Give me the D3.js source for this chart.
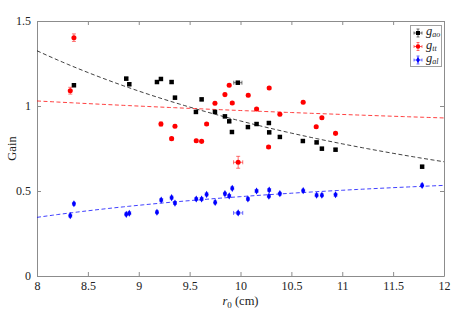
<!DOCTYPE html>
<html>
<head>
<meta charset="utf-8">
<script src="https://cdn.jsdelivr.net/npm/d3@7"></script>
<style>
  body { margin: 0; background: #fff; }
</style>
</head>
<body>
<div id="container"></div>
<script>
// g_ao (black squares)
var aoX = [8.363, 8.877, 8.907, 9.179, 9.218, 9.323, 9.356, 9.562, 9.618, 9.749, 9.847, 9.889,
           9.916, 9.974, 10.073, 10.158, 10.279, 10.282, 10.387, 10.613, 10.748, 10.800, 10.934, 11.785];
var aoY = [1.122, 1.161, 1.128, 1.141, 1.159, 1.141, 1.049, 0.965, 1.039, 0.965, 0.939, 0.910,
           0.847, 1.137, 0.876, 0.894, 0.900, 0.845, 0.818, 0.794, 0.786, 0.749, 0.743, 0.643];
var aoXErr = [0, 0, 0, 0, 0, 0, 0, 0, 0, 0, 0, 0, 0, 0.04, 0, 0, 0, 0, 0, 0, 0, 0, 0, 0];

// g_tt (red circles)
var ttX = [8.327, 8.363, 9.218, 9.323, 9.356, 9.565, 9.618, 9.667, 9.749, 9.847, 9.889, 9.919,
           9.977, 10.076, 10.158, 10.276, 10.282, 10.387, 10.616, 10.744, 10.800, 10.934];
var ttY = [1.090, 1.402, 0.894, 0.808, 0.881, 0.796, 0.792, 0.894, 1.016, 1.067, 1.122, 1.018,
           0.669, 1.063, 0.982, 0.759, 1.106, 0.951, 1.022, 0.878, 0.931, 0.839];
var ttYErr = [0.02, 0.022, 0.012, 0.008, 0.008, 0.008, 0.008, 0.008, 0.008, 0.008, 0.008, 0.008,
              0.035, 0.008, 0.008, 0.008, 0.008, 0.008, 0.008, 0.008, 0.008, 0.008];
var ttXErr = [0, 0, 0.01, 0, 0, 0, 0, 0, 0, 0, 0, 0, 0.045, 0, 0, 0, 0, 0, 0, 0, 0, 0];

// g_al (blue diamonds)
var alX = [8.327, 8.363, 8.877, 8.907, 9.179, 9.221, 9.323, 9.356, 9.565, 9.618, 9.667, 9.751, 9.847,
           9.889, 9.919, 9.977, 10.073, 10.158, 10.279, 10.282, 10.387, 10.616, 10.748, 10.800, 10.934, 11.785];
var alY = [0.355, 0.425, 0.363, 0.369, 0.375, 0.447, 0.461, 0.429, 0.453, 0.453, 0.480, 0.433, 0.484,
           0.471, 0.516, 0.371, 0.453, 0.500, 0.469, 0.506, 0.484, 0.502, 0.475, 0.475, 0.478, 0.533];
var alXErr = [0, 0, 0, 0, 0, 0, 0, 0, 0, 0, 0, 0, 0, 0, 0, 0.045, 0, 0, 0, 0, 0, 0, 0, 0, 0, 0];

// fitted curves y = a + b * x^p   (ao, tt, al)
var fitA = [0, 0, 0.6834];
var fitB = [43.05, 1.739, -21.66];
var fitP = [-1.674, -0.252, -2];

var xTicks = [8, 8.5, 9, 9.5, 10, 10.5, 11, 11.5, 12];
var xTickLabels = ["8", "8.5", "9", "9.5", "10", "10.5", "11", "11.5", "12"];
var yTicks = [0, 0.5, 1, 1.5];
var yTickLabels = ["0", "0.5", "1", "1.5"];

var W = 463, H = 309;
var margin = {top: 21, right: 19, bottom: 33, left: 37};
var serif = "'Liberation Serif', 'DejaVu Serif', serif";

var svg = d3.select("#container").append("svg")
    .attr("width", W)
    .attr("height", H)
    .attr("font-family", serif);

var x = d3.scaleLinear().domain([8, 12]).range([margin.left, W - margin.right]);
var y = d3.scaleLinear().domain([0, 1.5]).range([H - margin.bottom, margin.top]);

var axisColor = "#8c8c8c";

// axes (ticks inward, full box)
function styleAxis(g) {
    g.attr("font-family", serif);
    g.selectAll(".domain").attr("stroke", axisColor);
    g.selectAll(".tick line").attr("stroke", axisColor);
    g.selectAll(".tick text").attr("font-size", 12).attr("fill", "#222");
}

svg.append("g")
    .attr("transform", "translate(0," + y(0) + ")")
    .call(d3.axisBottom(x).tickValues(xTicks).tickSizeInner(-4).tickSizeOuter(0).tickPadding(5)
        .tickFormat(function(d, i) { return xTickLabels[i]; }))
    .call(styleAxis);

svg.append("g")
    .attr("transform", "translate(0," + y(1.5) + ")")
    .call(d3.axisTop(x).tickValues(xTicks).tickSizeInner(-4).tickSizeOuter(0).tickFormat(""))
    .call(styleAxis);

svg.append("g")
    .attr("transform", "translate(" + x(8) + ",0)")
    .call(d3.axisLeft(y).tickValues(yTicks).tickSizeInner(-4).tickSizeOuter(0).tickPadding(6)
        .tickFormat(function(d, i) { return yTickLabels[i]; }))
    .call(styleAxis);

svg.append("g")
    .attr("transform", "translate(" + x(12) + ",0)")
    .call(d3.axisRight(y).tickValues(yTicks).tickSizeInner(-4).tickSizeOuter(0).tickFormat(""))
    .call(styleAxis);

// axis labels
svg.append("text")
    .attr("x", (x(8) + x(12)) / 2)
    .attr("y", 305)
    .attr("text-anchor", "middle")
    .attr("font-size", 12.5)
    .attr("fill", "#222")
    .call(function(t) {
        t.append("tspan").attr("font-style", "italic").text("r");
        t.append("tspan").attr("dy", 2.5).attr("font-size", 9).text("0");
        t.append("tspan").attr("dy", -2.5).text(" (cm)");
    });

svg.append("text")
    .attr("transform", "translate(16," + ((y(0) + y(1.5)) / 2) + ") rotate(-90)")
    .attr("text-anchor", "middle")
    .attr("font-size", 12.5)
    .attr("fill", "#222")
    .text("Gain");

// fit lines
var fitColors = ["#000000", "#ff0000", "#0000ff"];
var line = d3.line().x(function(d) { return x(d[0]); }).y(function(d) { return y(d[1]); });
fitA.forEach(function(a, k) {
    var pts = d3.range(8, 12.001, 0.05).map(function(v) {
        return [v, a + fitB[k] * Math.pow(v, fitP[k])];
    });
    svg.append("path")
        .attr("d", line(pts))
        .attr("fill", "none")
        .attr("stroke", fitColors[k])
        .attr("stroke-opacity", 0.75)
        .attr("stroke-width", 1)
        .attr("stroke-dasharray", "4,2.5");
});

// error bars + markers
function drawSeries(xs, ys, yErr, xErr, color, symbol, size) {
    var g = svg.append("g");
    xs.forEach(function(xv, i) {
        var ye = yErr ? yErr[i] : 0.008;
        var xe = xErr ? xErr[i] : 0;
        var eb = g.append("g").attr("stroke", color).attr("stroke-opacity", 0.55).attr("stroke-width", 1);
        eb.append("line").attr("x1", x(xv)).attr("x2", x(xv)).attr("y1", y(ys[i] - ye)).attr("y2", y(ys[i] + ye));
        eb.append("line").attr("x1", x(xv) - 2).attr("x2", x(xv) + 2).attr("y1", y(ys[i] - ye)).attr("y2", y(ys[i] - ye));
        eb.append("line").attr("x1", x(xv) - 2).attr("x2", x(xv) + 2).attr("y1", y(ys[i] + ye)).attr("y2", y(ys[i] + ye));
        if (xe > 0) {
            eb.append("line").attr("x1", x(xv - xe)).attr("x2", x(xv + xe)).attr("y1", y(ys[i])).attr("y2", y(ys[i]));
            eb.append("line").attr("x1", x(xv - xe)).attr("x2", x(xv - xe)).attr("y1", y(ys[i]) - 2).attr("y2", y(ys[i]) + 2);
            eb.append("line").attr("x1", x(xv + xe)).attr("x2", x(xv + xe)).attr("y1", y(ys[i]) - 2).attr("y2", y(ys[i]) + 2);
        }
    });
    g.selectAll("path.mark")
        .data(xs)
        .enter().append("path")
        .attr("class", "mark")
        .attr("transform", function(d, i) { return "translate(" + x(d) + "," + y(ys[i]) + ")"; })
        .attr("d", d3.symbol().type(symbol).size(size))
        .attr("fill", color);
}

drawSeries(aoX, aoY, null, aoXErr, "#000000", d3.symbolSquare, 20);
drawSeries(ttX, ttY, ttYErr, ttXErr, "#ff0000", d3.symbolCircle, 20);
drawSeries(alX, alY, null, alXErr, "#0000ff", d3.symbolDiamond, 15);

// legend
var legend = svg.append("g");
legend.append("rect")
    .attr("x", 410.5).attr("y", 25.5)
    .attr("width", 31).attr("height", 41)
    .attr("fill", "#fff")
    .attr("stroke", "#a0a0a0");

var legNames = [["g", "ao"], ["g", "tt"], ["g", "al"]];
var legSymbols = [d3.symbolSquare, d3.symbolCircle, d3.symbolDiamond];
var legSizes = [20, 20, 15];
legNames.forEach(function(n, k) {
    var cy = 33 + k * 13.5, cx = 418;
    var eb = legend.append("g").attr("stroke", fitColors[k]).attr("stroke-opacity", 0.55);
    eb.append("line").attr("x1", cx).attr("x2", cx).attr("y1", cy - 4).attr("y2", cy + 4);
    eb.append("line").attr("x1", cx - 4).attr("x2", cx + 4).attr("y1", cy).attr("y2", cy);
    eb.append("line").attr("x1", cx - 1.5).attr("x2", cx + 1.5).attr("y1", cy - 4).attr("y2", cy - 4);
    eb.append("line").attr("x1", cx - 1.5).attr("x2", cx + 1.5).attr("y1", cy + 4).attr("y2", cy + 4);
    eb.append("line").attr("x1", cx - 4).attr("x2", cx - 4).attr("y1", cy - 1.5).attr("y2", cy + 1.5);
    eb.append("line").attr("x1", cx + 4).attr("x2", cx + 4).attr("y1", cy - 1.5).attr("y2", cy + 1.5);
    legend.append("path")
        .attr("transform", "translate(" + cx + "," + cy + ")")
        .attr("d", d3.symbol().type(legSymbols[k]).size(legSizes[k] * 0.8))
        .attr("fill", fitColors[k]);
    var t = legend.append("text")
        .attr("x", 426)
        .attr("y", cy + 2)
        .attr("font-size", 12.5)
        .attr("font-style", "italic")
        .attr("fill", "#222");
    t.append("tspan").text(n[0]);
    t.append("tspan").attr("dy", 2).attr("font-size", 8).text(n[1]);
});
</script>
</body>
</html>
